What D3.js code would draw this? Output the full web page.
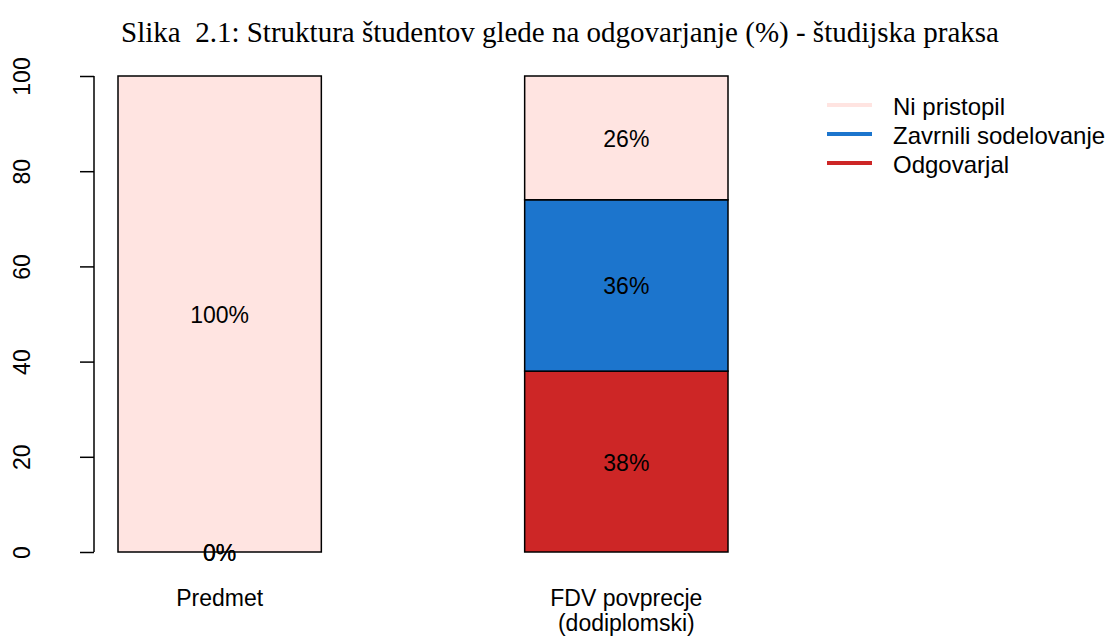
<!DOCTYPE html>
<html>
<head>
<meta charset="utf-8">
<script src="https://cdn.jsdelivr.net/npm/d3@7"></script>
<style>
  body { margin: 0; background: #fff; }
  svg text { font-family: "Liberation Sans", Arial, sans-serif; }
</style>
</head>
<body>
<svg width="1109" height="639"></svg>
<script>
// data
const categories = ["Predmet", "FDV povprecje\n(dodiplomski)"];
const series = ["Odgovarjal", "Zavrnili sodelovanje", "Ni pristopil"];
const odgovarjal = [0, 38];
const zavrnili = [0, 36];
const niPristopil = [100, 26];
const colors = ["#CD2626", "#1C75CD", "#FFE4E1"];
const yTicks = [0, 20, 40, 60, 80, 100];

let svg = d3.select("svg");
const fs = "23px";

// build rows for the stack
let rows = categories.map(function (c, i) {
  return { cat: c, "Odgovarjal": odgovarjal[i], "Zavrnili sodelovanje": zavrnili[i], "Ni pristopil": niPristopil[i] };
});
let stacked = d3.stack().keys(series)(rows);

let xScale = d3.scaleBand().domain(categories).range([118, 728]).paddingInner(0.5).paddingOuter(0);
let yScale = d3.scaleLinear().domain([0, 100]).range([552, 76]);

// title
svg.append("text")
  .attr("x", 560).attr("y", 42)
  .attr("text-anchor", "middle")
  .attr("xml:space", "preserve")
  .style("white-space", "pre")
  .style("font-family", "'Liberation Serif', 'Times New Roman', serif")
  .style("font-size", "29px")
  .text("Slika  2.1: Struktura študentov glede na odgovarjanje (%) - študijska praksa");

// y axis
let yAxis = svg.append("g")
  .attr("transform", "translate(94,0)")
  .call(d3.axisLeft(yScale).tickValues(yTicks).tickSize(14).tickFormat(d3.format("d")));
yAxis.select(".domain").attr("stroke", "#000").attr("stroke-width", 1.5).attr("d", "M0," + yScale(0) + "V" + yScale(100));
yAxis.selectAll(".tick line").attr("stroke", "#000").attr("stroke-width", 1.5);
yAxis.selectAll(".tick text")
  .attr("x", 0).attr("y", 0).attr("dy", null)
  .attr("transform", "translate(-72,0) rotate(-90)")
  .attr("text-anchor", "middle")
  .attr("dominant-baseline", "central")
  .style("font-family", "'Liberation Sans', Arial, sans-serif")
  .style("font-size", fs)
  .attr("fill", "#000");

// bars
let layers = svg.append("g").selectAll("g")
  .data(stacked)
  .join("g")
  .attr("fill", function (d, i) { return colors[i]; });

layers.selectAll("rect")
  .data(function (d) { return d; })
  .join("rect")
  .attr("x", function (d) { return xScale(d.data.cat); })
  .attr("width", xScale.bandwidth())
  .attr("y", function (d) { return yScale(d[1]); })
  .attr("height", function (d) { return yScale(d[0]) - yScale(d[1]); })
  .attr("stroke", "#000")
  .attr("stroke-width", 1.5);

// value labels
let labels = svg.append("g");
stacked.forEach(function (layer) {
  layer.forEach(function (d) {
    labels.append("text")
      .attr("x", xScale(d.data.cat) + xScale.bandwidth() / 2)
      .attr("y", yScale((d[0] + d[1]) / 2) + 1)
      .attr("text-anchor", "middle")
      .attr("dominant-baseline", "central")
      .style("font-size", fs)
      .text((d[1] - d[0]) + "%");
  });
});

// category labels
categories.forEach(function (c) {
  let lines = c.split("\n");
  lines.forEach(function (l, j) {
    svg.append("text")
      .attr("x", xScale(c) + xScale.bandwidth() / 2)
      .attr("y", 598 + j * 25)
      .attr("text-anchor", "middle")
      .attr("dominant-baseline", "central")
      .style("font-size", fs)
      .text(l);
  });
});

// legend
let legendOrder = series.slice().reverse();
let legend = svg.append("g");
legendOrder.forEach(function (s, i) {
  let y = 105 + i * 29;
  legend.append("line")
    .attr("x1", 827).attr("x2", 872)
    .attr("y1", y).attr("y2", y)
    .attr("stroke", colors[series.indexOf(s)])
    .attr("stroke-width", 4);
  legend.append("text")
    .attr("x", 893).attr("y", y + 1)
    .attr("dominant-baseline", "central")
    .style("font-size", "24px")
    .text(s);
});
</script>
</body>
</html>
